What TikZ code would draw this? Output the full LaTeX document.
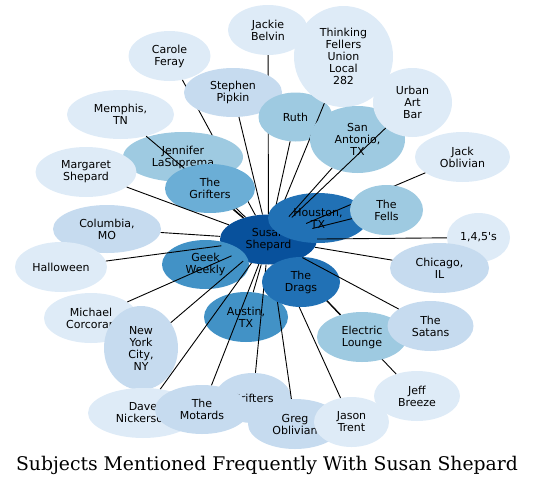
\documentclass[tikz,border=0pt]{standalone}
\usepackage{fontspec}
\setmainfont{DejaVu Serif}
\newfontfamily\subjfont{DejaVu Sans}
\usetikzlibrary{shapes.geometric}

% blues, light to dark
\definecolor{blueB}{HTML}{DEEBF7}
\definecolor{blueC}{HTML}{C6DBEF}
\definecolor{blueD}{HTML}{9ECAE1}
\definecolor{blueE}{HTML}{6BAED6}
\definecolor{blueF}{HTML}{4292C6}
\definecolor{blueG}{HTML}{2171B5}
\definecolor{blueH}{HTML}{08519C}

\begin{document}
\begin{tikzpicture}[x=1pt, y=-1pt]

% --- Styles ---
\tikzset{
    subj/.style={ellipse, draw=none, inner sep=0pt, align=center,
        font=\subjfont\fontsize{11}{12}\selectfont},
    link/.style={draw=black, line width=0.9pt},
    caption/.style={font=\fontsize{18.8}{20}\selectfont, anchor=base}
}

    \useasboundingbox (0,0) rectangle (535,485);

    % Hub
    \node[subj, fill=blueH, minimum width=97, minimum height=50] (susan) at (268.5,239.5) {Susan\\Shepard};

    % Upper part
    \node[subj, fill=blueB, minimum width=82, minimum height=50] (carole) at (169.5,56) {Carole\\Feray};
    \draw[link] (susan) -- (carole);
    \node[subj, fill=blueB, minimum width=80, minimum height=50] (jackie) at (268,30) {Jackie\\Belvin};
    \draw[link] (susan) -- (jackie);
    \node[subj, fill=blueC, minimum width=98, minimum height=49] (stephen) at (233,92.5) {Stephen\\Pipkin};
    \draw[link] (susan) -- (stephen);
    \node[subj, fill=blueD, minimum width=74, minimum height=49] (ruth) at (295.5,117) {Ruth};
    \draw[link] (susan) -- (ruth);
    \node[subj, fill=blueB, minimum width=99, minimum height=101] (thinking) at (343.5,56.5) {Thinking\\Fellers\\Union\\Local\\282};
    \draw[link] (susan) -- (thinking);
    \node[subj, fill=blueG, minimum width=100, minimum height=50] (houston) at (318,218) {Houston,\\TX};
    \node[subj, fill=blueD, minimum width=95, minimum height=67] (sanantonio) at (357.5,139.5) {San\\Antonio,\\TX};
    \draw[link] (susan) -- (sanantonio);
    \node[subj, fill=blueB, minimum width=79, minimum height=69] (urban) at (412.5,102.5) {Urban\\Art\\Bar};
    \draw[link] (susan) -- (urban);

    % Right part
    \node[subj, fill=blueB, minimum width=95, minimum height=50] (jack) at (462.5,157) {Jack\\Oblivian};
    \draw[link] (susan) -- (jack);
    \node[subj, fill=blueD, minimum width=73, minimum height=50] (fells) at (386.5,210) {The\\Fells};
    \draw[link] (susan) -- (fells);
    \node[subj, fill=blueB, minimum width=63, minimum height=49] (onefour) at (478.5,237.5) {1,4,5's};
    \draw[link] (susan) -- (onefour);
    \node[subj, fill=blueC, minimum width=99, minimum height=50] (chicago) at (439.5,268) {Chicago,\\IL};
    \draw[link] (susan) -- (chicago);

    % Left part
    \node[subj, fill=blueD, minimum width=120, minimum height=50] (jennifer) at (183,157) {Jennifer\\LaSuprema};
    \draw[link] (susan) -- (jennifer);
    \node[subj, fill=blueB, minimum width=107, minimum height=49] (memphis) at (120.5,114.5) {Memphis,\\TN};
    \draw[link] (susan) -- (memphis);
    \node[subj, fill=blueE, minimum width=90, minimum height=49] (grifters) at (210,188.5) {The\\Grifters};
    \draw[link] (susan) -- (grifters);
    \node[subj, fill=blueB, minimum width=101, minimum height=50] (margaret) at (86,172) {Margaret\\Shepard};
    \draw[link] (susan) -- (margaret);
    \node[subj, fill=blueC, minimum width=108, minimum height=48] (columbia) at (107,229) {Columbia,\\MO};
    \draw[link] (susan) -- (columbia);
    \node[subj, fill=blueF, minimum width=87, minimum height=49] (geek) at (205.5,264.5) {Geek\\Weekly};
    \node[subj, fill=blueB, minimum width=92, minimum height=50] (halloween) at (61,267) {Halloween};
    \draw[link] (susan) -- (halloween);
    \node[subj, fill=blueB, minimum width=94, minimum height=50] (michael) at (91,318) {Michael\\Corcoran};
    \draw[link] (susan) -- (michael);
    \node[subj, fill=blueC, minimum width=74, minimum height=84] (newyork) at (141,348) {New\\York\\City,\\NY};
    \draw[link] (susan) -- (newyork);

    % Lower part
    \node[subj, fill=blueF, minimum width=84, minimum height=50] (austin) at (246,317) {Austin,\\TX};
    \draw[link] (susan) -- (austin);
    \node[subj, fill=blueB, minimum width=110, minimum height=50] (dave) at (143,413) {Dave\\Nickerson};
    \draw[link] (susan) -- (dave);
    \node[subj, fill=blueC, minimum width=76, minimum height=50] (grifterstwo) at (253,398) {Grifters};
    \draw[link] (susan) -- (grifterstwo);
    \node[subj, fill=blueC, minimum width=94, minimum height=49] (motards) at (202,409.5) {The\\Motards};
    \draw[link] (susan) -- (motards);
    \node[subj, fill=blueC, minimum width=94, minimum height=50] (greg) at (295,424) {Greg\\Oblivian};
    \draw[link] (susan) -- (greg);
    \node[subj, fill=blueB, minimum width=86, minimum height=50] (jeff) at (417,396) {Jeff\\Breeze};
    \draw[link] (susan) -- (jeff);
    \node[subj, fill=blueB, minimum width=75, minimum height=50] (jason) at (351.5,422) {Jason\\Trent};
    \draw[link] (susan) -- (jason);
    \node[subj, fill=blueD, minimum width=90, minimum height=50] (electric) at (362,337) {Electric\\Lounge};
    \draw[link] (susan) -- (electric);
    \node[subj, fill=blueG, minimum width=78, minimum height=50] (drags) at (301,282) {The\\Drags};
    \node[subj, fill=blueC, minimum width=86, minimum height=50] (satans) at (430.5,326) {The\\Satans};
    \draw[link] (susan) -- (satans);

    % Title
    \node[caption] (title) at (267,470) {Subjects Mentioned Frequently With Susan Shepard};

\end{tikzpicture}
\end{document}
